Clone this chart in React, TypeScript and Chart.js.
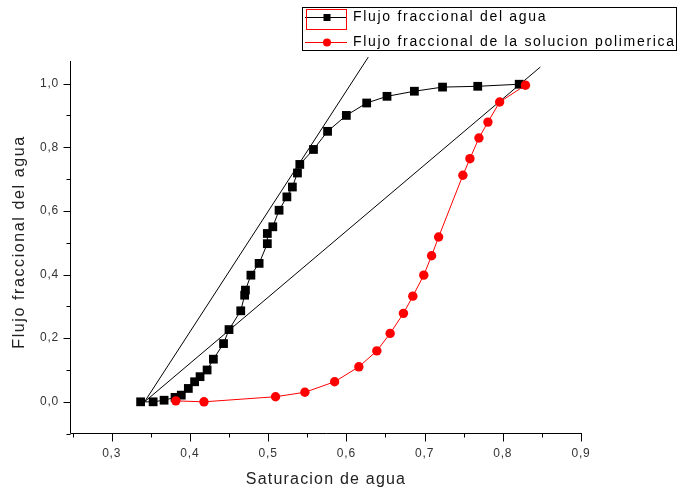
import React, { useEffect, useRef } from 'react';
import { Chart, registerables } from 'chart.js';

Chart.register(...registerables);

// Flujo fraccional del agua (black squares)
const aguaSw = [0.337, 0.353, 0.367, 0.381, 0.389, 0.398, 0.406, 0.413, 0.422, 0.430, 0.443, 0.450, 0.465, 0.470, 0.471, 0.478, 0.4885, 0.499, 0.499, 0.506, 0.514, 0.524, 0.531, 0.5375, 0.5405, 0.558, 0.576, 0.600, 0.626, 0.652, 0.687, 0.723, 0.768, 0.821];
const aguaFw = [0.0, 0.0, 0.005, 0.014, 0.021, 0.042, 0.063, 0.079, 0.100, 0.134, 0.183, 0.227, 0.286, 0.335, 0.351, 0.398, 0.435, 0.497, 0.529, 0.55, 0.602, 0.644, 0.675, 0.719, 0.746, 0.793, 0.850, 0.900, 0.939, 0.960, 0.976, 0.989, 0.9915, 0.998];

// Flujo fraccional de la solucion polimerica (red circles)
const polSw = [0.382, 0.418, 0.5095, 0.547, 0.585, 0.616, 0.639, 0.656, 0.673, 0.685, 0.699, 0.709, 0.718, 0.749, 0.758, 0.7695, 0.781, 0.796, 0.829];
const polFw = [0.003, 0.0, 0.016, 0.030, 0.063, 0.110, 0.160, 0.215, 0.278, 0.332, 0.398, 0.459, 0.518, 0.712, 0.764, 0.829, 0.879, 0.942, 0.995];

// Tangent lines (Sw, fw)
const tangente1Sw = [0.342, 0.628];
const tangente1Fw = [0.0, 1.083];
const tangente2Sw = [0.342, 0.848];
const tangente2Fw = [0.0, 1.052];

// Ticks
const xMajor = [0.3, 0.4, 0.5, 0.6, 0.7, 0.8, 0.9];
const xMinor = [0.25, 0.35, 0.45, 0.55, 0.65, 0.75, 0.85];
const yMajor = [0.0, 0.2, 0.4, 0.6, 0.8, 1.0];
const yMinor = [-0.1, 0.1, 0.3, 0.5, 0.7, 0.9];

const legendLabels = ['Flujo fraccional del agua', 'Flujo fraccional de la solucion polimerica'];
const xTitle = 'Saturacion de agua';
const yTitle = 'Flujo fraccional del agua';

const FONT = '"Liberation Sans", Arial, sans-serif';

const fmt = (v: number) => v.toFixed(1).replace('.', ',');

const decorPlugin = {
  id: 'decor',
  beforeDraw(chart: any) {
    const ctx = chart.ctx;
    (ctx as any).letterSpacing = '0.8px';
  },
  afterDraw(chart: any) {
    const ctx: CanvasRenderingContext2D = chart.ctx;
    const xs = chart.scales.x;
    const ys = chart.scales.y;
    const ca = chart.chartArea;
    ctx.save();
    ctx.strokeStyle = '#000';
    ctx.lineWidth = 1;
    const axY = Math.round(ca.bottom) + 0.5;
    const axX = Math.round(ca.left) - 0.5;
    ctx.beginPath();
    ctx.moveTo(axX, Math.round(ca.top));
    ctx.lineTo(axX, axY);
    ctx.moveTo(axX, axY);
    ctx.lineTo(Math.round(ca.right) + 1, axY);
    xMajor.forEach((v) => {
      const p = Math.round(xs.getPixelForValue(v)) + 0.5;
      ctx.moveTo(p, axY);
      ctx.lineTo(p, axY + 8);
    });
    xMinor.forEach((v) => {
      const p = Math.round(xs.getPixelForValue(v)) + 0.5;
      ctx.moveTo(p, axY);
      ctx.lineTo(p, axY + 4);
    });
    yMajor.forEach((v) => {
      const p = Math.round(ys.getPixelForValue(v)) + 0.5;
      ctx.moveTo(axX, p);
      ctx.lineTo(axX - 7, p);
    });
    yMinor.forEach((v) => {
      const p = Math.round(ys.getPixelForValue(v)) + 0.5;
      ctx.moveTo(axX, p);
      ctx.lineTo(axX - 4, p);
    });
    ctx.stroke();

    // axis titles
    (ctx as any).letterSpacing = '1.2px';
    ctx.fillStyle = '#222';
    ctx.font = `16px ${FONT}`;
    ctx.textAlign = 'center';
    ctx.textBaseline = 'middle';
    ctx.fillText(xTitle, (ca.left + ca.right) / 2, 480);
    (ctx as any).letterSpacing = '1.6px';
    ctx.save();
    ctx.translate(20, 242);
    ctx.rotate(-Math.PI / 2);
    ctx.fillText(yTitle, 0, 0);
    ctx.restore();

    // legend
    ctx.strokeStyle = '#000';
    ctx.lineWidth = 1;
    ctx.strokeRect(302.5, 7.5, 374, 43);
    ctx.beginPath();
    ctx.moveTo(305, 17.5);
    ctx.lineTo(347, 17.5);
    ctx.stroke();
    ctx.fillStyle = '#000';
    ctx.fillRect(323.5, 14, 7, 7);
    ctx.strokeStyle = '#ff0000';
    ctx.strokeRect(306.5, 9.5, 40, 20);
    ctx.beginPath();
    ctx.moveTo(305, 42.5);
    ctx.lineTo(347, 42.5);
    ctx.stroke();
    ctx.fillStyle = '#ff0000';
    ctx.beginPath();
    ctx.arc(327, 42.5, 4, 0, Math.PI * 2);
    ctx.fill();
    ctx.fillStyle = '#000';
    ctx.font = `14px ${FONT}`;
    (ctx as any).letterSpacing = '1.7px';
    ctx.textAlign = 'left';
    ctx.textBaseline = 'middle';
    ctx.fillText(legendLabels[0], 353, 17);
    ctx.fillText(legendLabels[1], 353, 42);
    ctx.restore();
  },
};

export default function App() {
  const ref = useRef<HTMLCanvasElement | null>(null);
  useEffect(() => {
    if (!ref.current) return;
    const toPts = (xs: number[], ys: number[]) => xs.map((x, i) => ({ x, y: ys[i] }));
    const chart = new Chart(ref.current, {
      type: 'scatter',
      data: {
        datasets: [
          {
            label: legendLabels[1],
            data: toPts(polSw, polFw),
            showLine: true,
            borderColor: '#ff0000',
            backgroundColor: '#ff0000',
            borderWidth: 1,
            pointRadius: 4.7,
            pointBorderWidth: 0,
            pointStyle: 'circle',
            clip: false,
          },
          {
            label: legendLabels[0],
            data: toPts(aguaSw, aguaFw),
            showLine: true,
            borderColor: '#000',
            backgroundColor: '#000',
            borderWidth: 1,
            pointRadius: 6.2,
            pointBorderWidth: 0,
            pointStyle: 'rect',
            clip: false,
          },
          {
            label: 't1',
            data: toPts(tangente1Sw, tangente1Fw),
            showLine: true,
            borderColor: '#000',
            borderWidth: 1,
            pointRadius: 0,
            clip: false,
          },
          {
            label: 't2',
            data: toPts(tangente2Sw, tangente2Fw),
            showLine: true,
            borderColor: '#000',
            borderWidth: 1,
            pointRadius: 0,
            clip: false,
          },
        ],
      } as any,
      options: {
        animation: false,
        responsive: false,
        devicePixelRatio: 1,
        layout: { padding: { top: 61, right: 97, left: 0, bottom: 0 } },
        plugins: {
          legend: { display: false },
          tooltip: { enabled: false },
        },
        scales: {
          x: {
            type: 'linear',
            min: 0.248,
            max: 0.9,
            afterBuildTicks: (s: any) => {
              s.ticks = xMajor.map((v) => ({ value: v }));
            },
            afterFit: (s: any) => {
              s.height = 57;
            },
            grid: { display: false, drawTicks: false },
            border: { display: false },
            ticks: {
              padding: 13,
              color: '#333',
              font: { family: FONT, size: 12 },
              maxRotation: 0,
              autoSkip: false,
              callback: (v: any) => fmt(Number(v)),
            },
          },
          y: {
            type: 'linear',
            min: -0.098,
            max: 1.071,
            afterBuildTicks: (s: any) => {
              s.ticks = yMajor.map((v) => ({ value: v }));
            },
            afterFit: (s: any) => {
              s.width = 71;
            },
            grid: { display: false, drawTicks: false },
            border: { display: false },
            ticks: {
              padding: 12,
              color: '#333',
              font: { family: FONT, size: 12 },
              autoSkip: false,
              callback: (v: any) => fmt(Number(v)),
            },
          },
        },
      } as any,
      plugins: [decorPlugin],
    });
    return () => chart.destroy();
  }, []);
  return (
    <div style={{ position: 'absolute', left: 0, top: 0, width: 678, height: 490 }}>
      <canvas ref={ref} width={678} height={490} style={{ display: 'block' }} />
    </div>
  );
}
